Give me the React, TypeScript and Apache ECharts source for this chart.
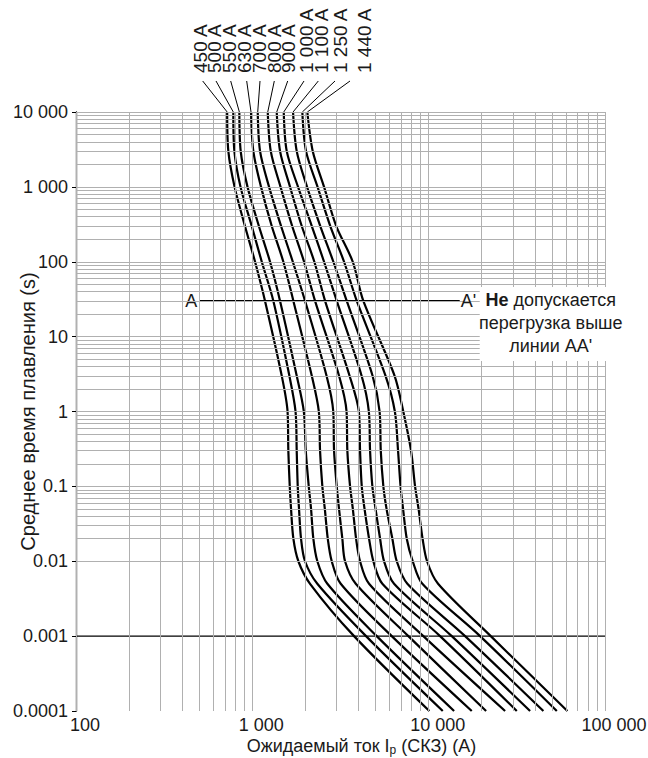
import { useEffect, useRef } from 'react';
import * as echarts from 'echarts';

// ---- data ----
const ratings = ['450 A', '500 A', '550 A', '630 A', '700 A', '800 A', '900 A', '1 000 A', '1 100 A', '1 250 A', '1 440 A'];
// melting time levels (s) at which each curve's current (A) was read
const timeLevels = [10000, 3000, 1000, 300, 100, 30, 3, 1, 0.3, 0.1, 0.05, 0.02, 0.01, 0.005, 0.001, 0.0001];
const c450 = [720, 731, 793, 908, 1036, 1180, 1468, 1584, 1600, 1630, 1658, 1709, 1824, 2125, 3776, 10090];
const c500 = [780, 791, 857, 992, 1131, 1316, 1622, 1758, 1785, 1809, 1840, 1889, 1990, 2337, 4415, 12020];
const c550 = [844, 859, 939, 1089, 1260, 1436, 1785, 1959, 2009, 2089, 2153, 2218, 2337, 2664, 5076, 13940];
const c630 = [983, 1013, 1120, 1288, 1499, 1709, 2173, 2383, 2421, 2495, 2577, 2678, 2821, 3172, 6175, 17550];
const c700 = [1073, 1106, 1244, 1455, 1696, 1990, 2635, 2877, 2907, 3011, 3102, 3239, 3355, 3860, 7672, 21170];
const c800 = [1223, 1272, 1445, 1682, 1965, 2268, 3102, 3422, 3458, 3583, 3715, 3876, 4082, 4591, 9331, 27130];
const c900 = [1375, 1436, 1636, 1906, 2247, 2585, 3559, 4019, 4082, 4174, 4329, 4591, 4857, 5463, 11610, 31600];
const c1000 = [1507, 1567, 1816, 2173, 2551, 3011, 4164, 4579, 4652, 4794, 4998, 5303, 5585, 6365, 13520, 37600];
const c1100 = [1702, 1785, 2043, 2428, 2881, 3431, 4806, 5269, 5350, 5534, 5770, 6225, 6592, 7572, 16090, 44730];
const c1250 = [1921, 2016, 2343, 2767, 3312, 3911, 5694, 6431, 6704, 6929, 7159, 7513, 8124, 9211, 19570, 53300];
const c1440 = [2051, 2201, 2551, 2991, 3711, 4262, 6407, 7177, 7946, 8373, 8765, 9236, 9792, 11305, 22500, 61200];
const curves = [c450, c500, c550, c630, c700, c800, c900, c1000, c1100, c1250, c1440];

const yTickLabels = ['0.0001', '0.001', '0.01', '0.1', '1', '10', '100', '1 000', '10 000']; // exponents -4..4
const xTickLabels = ['100', '1 000', '10 000', '100 000']; // exponents 2..5
const aaFrom = 500;
const aaTo = 15000;
const aaTime = 30;
const limitTime = 0.001;
const noteLines = ['{b|Не} допускается', 'перегрузка выше', "линии АА'"];

// ---- layout (pixels) ----
const FONT = '"Liberation Sans", Arial, sans-serif';
const TXT = '#1a1a1a';
const labelX = [200, 214.8, 229.6, 244.4, 259.2, 274, 288.8, 306, 321.5, 340, 364];
const leaderTopX = [202.7, 216, 230.7, 246.7, 260, 274.3, 287.7, 304, 318.3, 335, 350];

export default function App() {
  const ref = useRef<HTMLDivElement>(null);
  useEffect(() => {
    if (!ref.current) return;
    const chart = echarts.init(ref.current, undefined, { renderer: 'svg' });

    const vLines: any[] = [];
    for (let k = 2; k <= 4; k++) for (let m = 1; m <= 9; m++) vLines.push({ xAxis: m * Math.pow(10, k) });
    vLines.push({ xAxis: 100000 });
    const hLines: any[] = [];
    for (let k = -4; k <= 3; k++) for (let m = 1; m <= 9; m++) hLines.push({ yAxis: Number((m * Math.pow(10, k)).toPrecision(6)) });
    hLines.push({ yAxis: 10000 });

    const series: any[] = [
      {
        type: 'line',
        data: [[100, 0.0001]],
        symbol: 'none',
        lineStyle: { opacity: 0 },
        silent: true,
        z: 1,
        markLine: {
          silent: true,
          symbol: ['none', 'none'],
          label: { show: false },
          emphasis: { disabled: true },
          lineStyle: { color: '#b0b0b0', width: 1, type: 'solid' },
          data: [...vLines, ...hLines],
        },
      },
      {
        type: 'line',
        data: [[100, limitTime], [100000, limitTime]],
        symbol: 'none',
        lineStyle: { color: '#000', width: 1.3 },
        silent: true,
        z: 3,
      },
      {
        type: 'line',
        data: [[aaFrom, aaTime], [aaTo, aaTime]],
        symbol: 'none',
        lineStyle: { color: '#000', width: 2 },
        silent: true,
        z: 3,
      },
      ...curves.map((c, i) => ({
        type: 'line',
        name: ratings[i],
        data: timeLevels.map((t, j) => [c[j], t]),
        symbol: 'none',
        smooth: 0.3,
        lineStyle: { color: '#000', width: 2.2 },
        silent: true,
        z: 4,
      })),
    ];

    chart.setOption({
      animation: false,
      backgroundColor: '#fff',
      grid: { left: 76, right: 43, top: 112, bottom: 47, outerBoundsMode: 'none', containLabel: false },
      xAxis: {
        type: 'log',
        logBase: 10,
        min: 100,
        max: 100000,
        axisLine: { show: false },
        axisTick: { show: false },
        splitLine: { show: false },
        axisLabel: {
          fontSize: 18,
          fontFamily: FONT,
          color: TXT,
          margin: 5,
          padding: [0, 0, 0, 18],
          formatter: (v: number) => xTickLabels[Math.round(Math.log10(v)) - 2] ?? '',
        },
        name: 'Ожидаемый ток I{sub|p} (СКЗ) (A)',
        nameLocation: 'middle',
        nameGap: 24,
        nameMoveOverlap: false,
        nameTextStyle: {
          fontSize: 18,
          fontFamily: FONT,
          color: TXT,
          padding: [0, 0, 0, 42],
          rich: {
            sub: { fontSize: 12, fontFamily: FONT, color: TXT, padding: [9, 0, 0, 0] },
          },
        },
      },
      yAxis: {
        type: 'log',
        logBase: 10,
        min: 0.0001,
        max: 10000,
        axisLine: { show: true, lineStyle: { color: '#000', width: 1.3 } },
        axisTick: { show: true, length: 4, lineStyle: { color: '#000' } },
        splitLine: { show: false },
        axisLabel: {
          fontSize: 18,
          fontFamily: FONT,
          color: TXT,
          margin: 8,
          formatter: (v: number) => yTickLabels[Math.round(Math.log10(v)) + 4] ?? '',
        },
        name: 'Среднее время плавления (s)',
        nameLocation: 'middle',
        nameGap: 38,
        nameRotate: 90,
        nameMoveOverlap: false,
        nameTextStyle: { fontSize: 20, fontFamily: FONT, color: TXT },
      },
      series,
    });

    const toPx = (x: number, y: number) => chart.convertToPixel({ xAxisIndex: 0, yAxisIndex: 0 }, [x, y]) as number[];
    const graphic: any[] = [];
    curves.forEach((c, i) => {
      const top = toPx(c[0], timeLevels[0]);
      graphic.push({
        type: 'line',
        silent: true,
        shape: { x1: leaderTopX[i], y1: 81, x2: top[0], y2: top[1] },
        style: { stroke: '#000', lineWidth: 1 },
      });
      graphic.push({
        type: 'text',
        x: labelX[i],
        y: 73,
        rotation: Math.PI / 2,
        silent: true,
        style: { text: ratings[i], fontSize: 19, fontFamily: FONT, fill: TXT, align: 'left', verticalAlign: 'middle' },
      });
    });
    const aL = toPx(aaFrom, aaTime);
    const aR = toPx(aaTo, aaTime);
    graphic.push({
      type: 'text', x: aL[0] - 2, y: aL[1], silent: true,
      style: { text: 'A', fontSize: 18, fontFamily: FONT, fill: TXT, align: 'right', verticalAlign: 'middle' },
    });
    graphic.push({
      type: 'rect', silent: true, z: 10,
      shape: { x: aR[0] + 20, y: aR[1] - 14, width: 150, height: 74 },
      style: { fill: '#fff' },
    });
    graphic.push({
      type: 'text', x: aR[0] + 1, y: aR[1], silent: true, z: 11,
      style: { text: "A'", fontSize: 18, fontFamily: FONT, fill: TXT, align: 'left', verticalAlign: 'middle' },
    });
    graphic.push({
      type: 'text', x: aR[0] + 91, y: aR[1] - 12, silent: true, z: 11,
      style: {
        text: noteLines.join('\n'),
        fontSize: 18,
        fontFamily: FONT,
        fill: TXT,
        align: 'center',
        verticalAlign: 'top',
        lineHeight: 23,
        rich: { b: { fontSize: 18, fontWeight: 'bold', fontFamily: FONT, fill: TXT, lineHeight: 23 } },
      },
    });
    chart.setOption({ graphic });

    return () => chart.dispose();
  }, []);
  return <div ref={ref} style={{ position: 'fixed', left: 0, top: 0, width: 648, height: 758 }} />;
}
